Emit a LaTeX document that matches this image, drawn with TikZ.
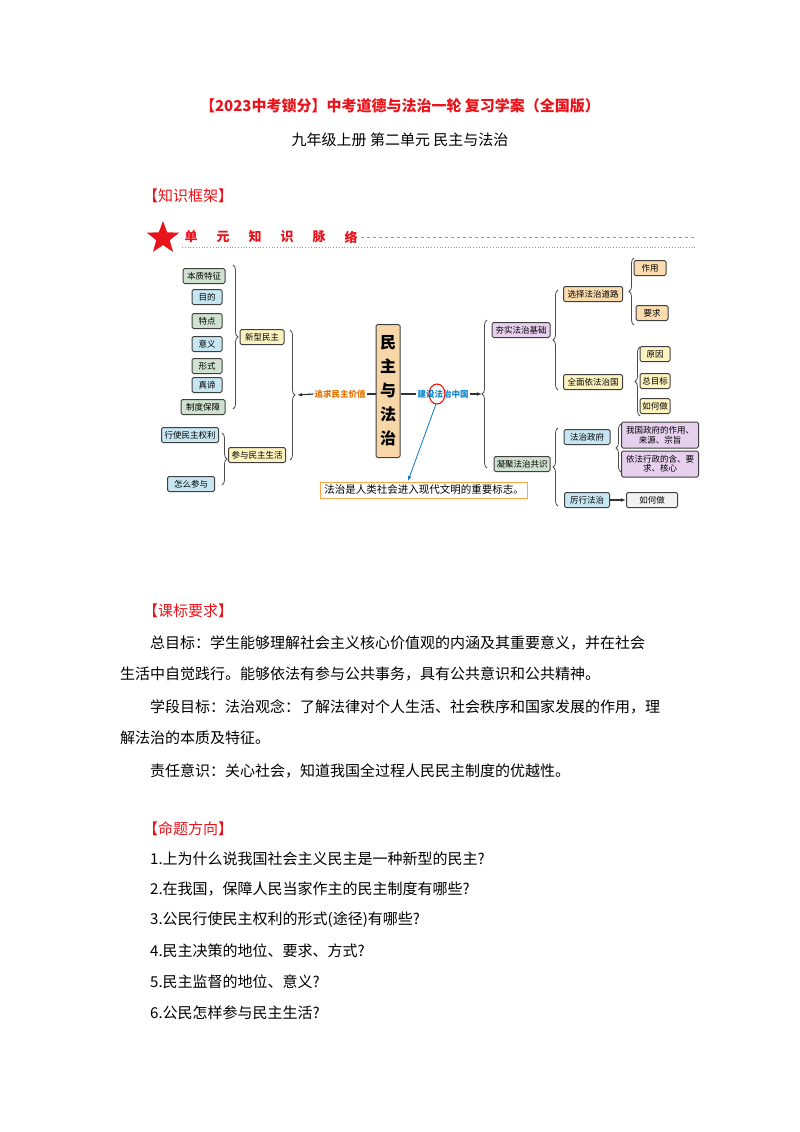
\documentclass[tikz,border=0pt]{standalone}
\usepackage{fontspec}
\setmainfont{Noto Sans CJK SC}
\usetikzlibrary{shapes.geometric,decorations.pathreplacing,arrows.meta}
\definecolor{titlered}{HTML}{E8141B}
\definecolor{kgreen}{HTML}{CFE2CF}
\definecolor{kblue}{HTML}{C6E6F2}
\definecolor{kyellow}{HTML}{FDF3C0}
\definecolor{korange}{HTML}{FBDCAE}
\definecolor{kpurple}{HTML}{E6D0EE}
\definecolor{kcore}{HTML}{F7D7A8}
\tikzset{
  kbox/.style={draw=black!75, line width=1pt, rounded corners=1.5pt, inner sep=1.5pt,
    minimum height=15, font=\fontsize{8.5}{9.5}\selectfont, align=center},
  kbrace/.style={decorate, decoration={brace, amplitude=5pt}, line width=0.8pt, black!70},
  kline/.style={line width=1.2pt, black!80},
  ktext/.style={anchor=west, font=\fontsize{15}{18}\selectfont, inner sep=0pt},
  khead/.style={anchor=west, font=\fontsize{15}{18}\selectfont, inner sep=0pt, titlered}
}
\begin{document}
\begin{tikzpicture}[x=1pt,y=-1pt]
        \useasboundingbox[fill=white] (0,0) rectangle (800,1132);
        % titles
        \node[font=\fontsize{15}{18}\selectfont\bfseries, text=titlered] (title) at (400,106) {【2023中考锁分】中考道德与法治一轮\ 复习学案（全国版）};
        \node[font=\fontsize{15}{18}\selectfont] (subtitle) at (400,140) {九年级上册\ 第二单元\ 民主与法治};
        \node[khead] (kuangjia) at (143,196) {【知识框架】};
        % header strip
        \node[star, star points=5, star point ratio=2.4, fill=titlered, minimum size=34, inner sep=0pt] (star) at (163,238) {};
        \foreach \ch [count=\i] in {单,元,知,识,脉,络}
            \node[text=titlered, font=\fontsize{13}{15}\selectfont\bfseries] (h\i) at (159+\i*32,237) {\ch};
        \draw[titlered!60, dashed, line width=0.5pt] (h6.east) -- (695,237);
        \draw[titlered!60, dotted, line width=0.8pt] (182,247) -- (695,247);
        % core
        \node[kbox, fill=kcore, minimum width=24, minimum height=133, font=\fontsize{16}{24}\selectfont\bfseries] (core) at (388,391) {民\\主\\与\\法\\治};
        \node[text=orange!90!black, font=\fontsize{8.5}{9}\selectfont\bfseries, inner sep=1pt] (zhuiqiu) at (340,394) {追求民主价值};
        \node[text=cyan!70!blue, font=\fontsize{8.5}{9}\selectfont\bfseries, inner sep=1pt] (jianshe) at (443,394) {建设法治中国};
        \draw[kline] (core.west |- zhuiqiu) -- (zhuiqiu.east);
        \draw[kline] (core.east |- jianshe) -- (jianshe.west);
        \coordinate (ltip) at (297,395);
        \coordinate (rtip) at (482,394);
        \draw[kline, -{Latex[length=5pt]}] (zhuiqiu.west) -- (ltip);
        \draw[kline, -{Latex[length=5pt]}] (jianshe.east) -- (rtip);
        \draw[red, line width=1pt] (437,394) ellipse (8 and 10);
        % left branch
        \node[kbox, fill=kgreen, minimum width=42] (benzhi) at (204,276) {本质特征};
        \node[kbox, fill=kblue, minimum width=30] (mudi) at (207,297) {目的};
        \node[kbox, fill=kgreen, minimum width=30] (tedian) at (207,321) {特点};
        \node[kbox, fill=kblue, minimum width=30] (yiyi) at (207,344) {意义};
        \node[kbox, fill=kgreen, minimum width=30] (xingshi) at (207,366) {形式};
        \node[kbox, fill=kblue, minimum width=30] (zhendi) at (207,385) {真谛};
        \node[kbox, fill=kgreen, minimum width=44] (zhidu) at (203,407) {制度保障};
        \node[kbox, fill=kyellow, minimum width=44] (xinxing) at (262,337) {新型民主};
        \node[kbox, fill=kblue, minimum width=57] (xingshi2) at (190,435) {行使民主权利};
        \node[kbox, fill=kblue, minimum width=47] (zenme) at (191,484) {怎么参与};
        \node[kbox, fill=kyellow, minimum width=57] (canyu) at (257,455) {参与民主生活};
        \draw[kbrace] (233,265) -- (233,409);
        \draw[kbrace] (222,433) -- (222,485);
        \draw[kbrace] (290,330) -- (290,460);
        % right branch
        \node[kbox, fill=kpurple, minimum width=58] (hangshi) at (521,330) {夯实法治基础};
        \node[kbox, fill=kgreen, minimum width=56] (ningju) at (522,464) {凝聚法治共识};
        \node[kbox, fill=korange, minimum width=59] (xuanze) at (593,294) {选择法治道路};
        \node[kbox, fill=kyellow, minimum width=59] (quanmian) at (593,382) {全面依法治国};
        \node[kbox, fill=korange, minimum width=32] (zuoyong) at (650,268) {作用};
        \node[kbox, fill=korange, minimum width=32] (yaoqiu) at (652,313) {要求};
        \node[kbox, fill=kyellow, minimum width=30] (yuanyin) at (655,354) {原因};
        \node[kbox, fill=kyellow, minimum width=30] (zongmubiao) at (655,381) {总目标};
        \node[kbox, fill=kyellow, minimum width=30] (ruhe1) at (655,406) {如何做};
        \node[kbox, fill=kblue, minimum width=46] (zhengfu) at (587,437) {法治政府};
        \node[kbox, fill=kpurple, minimum width=77, minimum height=26] (zhengfu1) at (660,435) {我国政府的作用、\\来源、宗旨};
        \node[kbox, fill=kpurple, minimum width=77, minimum height=26] (zhengfu2) at (660,464) {依法行政的含、要\\求、核心};
        \node[kbox, fill=kblue, minimum width=45] (lixing) at (587,500) {厉行法治};
        \node[kbox, fill=black!5, minimum width=51] (ruhe2) at (652,500) {如何做};
        \draw[kbrace] (487,468) -- (487,320);
        \draw[kbrace] (558,390) -- (558,290);
        \draw[kbrace] (634,325) -- (634,258);
        \draw[kbrace] (640,416) -- (640,347);
        \draw[kbrace] (558,506) -- (558,428);
        \draw[kbrace] (621,472) -- (621,424);
        \draw[kline, -{Latex[length=5pt]}] (lixing.east) -- (ruhe2.west);
        % note
        \node[draw=orange!70, line width=0.8pt, fill=white, font=\fontsize{10.5}{12}\selectfont, inner sep=3pt, minimum width=207] (note) at (424,490) {法治是人类社会进入现代文明的重要标志。};
        \coordinate (noteend) at (408,481);
        \draw[cyan!60!blue, line width=0.8pt, -{Latex[length=5pt]}] (436,404) -- (noteend);
        % text
        \node[khead] (kebiao) at (143,611) {【课标要求】};
        \node[ktext] (l1) at (150,643) {总目标：学生能够理解社会主义核心价值观的内涵及其重要意义，并在社会};
        \node[ktext] (l2) at (120,674) {生活中自觉践行。能够依法有参与公共事务，具有公共意识和公共精神。};
        \node[ktext] (l3) at (150,707) {学段目标：法治观念：了解法律对个人生活、社会秩序和国家发展的作用，理};
        \node[ktext] (l4) at (120,738) {解法治的本质及特征。};
        \node[ktext] (l5) at (150,771) {责任意识：关心社会，知道我国全过程人民民主制度的优越性。};
        \node[khead] (mingti) at (143,829) {【命题方向】};
        \node[ktext] (q1) at (150,859) {1.上为什么说我国社会主义民主是一种新型的民主?};
        \node[ktext] (q2) at (150,889) {2.在我国，保障人民当家作主的民主制度有哪些?};
        \node[ktext] (q3) at (150,920) {3.公民行使民主权利的形式(途径)有哪些?};
        \node[ktext] (q4) at (150,951) {4.民主决策的地位、要求、方式?};
        \node[ktext] (q5) at (150,982) {5.民主监督的地位、意义?};
        \node[ktext] (q6) at (150,1013) {6.公民怎样参与民主生活?};
\end{tikzpicture}
\end{document}
